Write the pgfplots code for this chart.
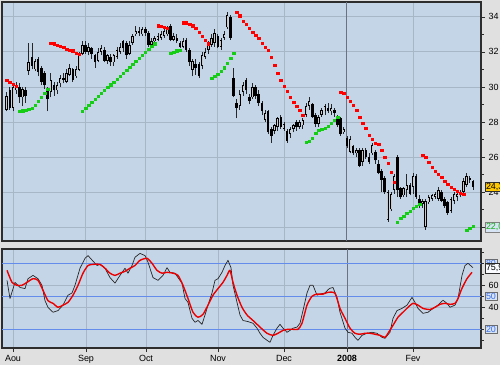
\documentclass[border=0pt]{standalone}
\usepackage{fontspec}
\setmainfont{Liberation Sans}
\usepackage{pgfplots}
\pgfplotsset{compat=1.18}
\usepackage{pgfplotstable}
\definecolor{outerbg}{RGB}{224,224,224}
\definecolor{panel}{RGB}{197,213,232}
\definecolor{gridc}{RGB}{168,183,200}
\definecolor{yeargrid}{RGB}{105,115,132}
\definecolor{sarred}{RGB}{255,0,0}
\definecolor{sargreen}{RGB}{20,205,20}
\definecolor{levelblue}{RGB}{100,140,235}
\definecolor{framec}{RGB}{45,45,45}
\definecolor{upfill}{RGB}{200,200,200}
\definecolor{stochred}{RGB}{235,0,0}
\definecolor{boxyellow}{RGB}{255,200,0}
\definecolor{boxblue}{RGB}{215,228,245}
\definecolor{labblue}{RGB}{60,110,230}
\pgfplotsset{/pgf/number format/assume math mode=true}

\pgfplotstableread{
d o h l c
-2 28.7 29.7 28.6 29.5
-1 29.8 30.0 28.7 28.8
0 28.8 30.1 28.6 30.0
1 29.8 30.3 29.6 30.1
2 30.0 30.2 29.1 29.4
3 29.4 30.0 28.9 29.9
4 29.8 30.0 29.1 29.5
5 30.9 32.5 30.7 31.4
6 31.7 32.5 31.0 31.2
7 31.0 31.6 30.9 31.5
8 31.6 31.7 30.6 30.85
9 31.1 31.2 30.1 30.3
10 30.8 30.9 29.9 30.1
11 29.9 30.0 28.6 29.3
12 29.7 30.8 29.4 30.4
13 30.1 30.3 29.5 29.8
14 29.8 30.3 29.6 30.1
15 30.2 30.7 30.0 30.5
16 30.5 30.8 30.2 30.4
17 30.3 31.0 30.2 30.8
18 30.7 31.3 30.6 31.1
19 31.0 31.1 30.3 30.4
20 30.6 31.2 30.5 31.0
21 30.97 32.0 30.9 31.8
22 31.9 32.6 31.8 32.4
23 32.4 32.6 31.9 32.0
24 32.0 32.5 31.8 32.3
25 32.2 32.3 31.6 31.9
26 31.8 31.9 31.1 31.4
27 31.5 32.2 31.4 32.0
28 32.0 32.4 31.8 32.2
29 32.1 32.3 31.4 31.5
30 31.5 31.9 31.3 31.8
31 31.7 31.9 31.2 31.4
32 31.4 31.9 31.2 31.8
33 31.7 32.3 31.6 32.1
34 32.0 32.5 31.9 32.3
35 32.6 32.7 32.0 32.2
36 32.5 32.6 31.6 31.8
37 31.9 32.6 31.8 32.4
38 32.5 33.0 32.4 32.9
39 33.0 33.5 32.9 33.2
40 33.2 33.4 32.9 33.1
41 33.0 33.4 32.9 33.3
42 33.3 33.4 32.9 33.1
43 33.1 33.2 32.3 32.4
44 32.4 32.8 32.2 32.6
45 32.6 32.9 32.5 32.8
46 32.7 33.1 32.6 32.9
47 32.8 33.2 32.7 33.0
48 32.9 33.4 32.8 33.2
49 33.0 33.5 32.9 33.4
50 33.5 33.6 32.6 32.7
51 32.7 33.1 32.6 32.9
52 32.8 33.0 32.5 32.6
53 32.5 32.6 32.2 32.3
54 32.3 32.8 32.2 32.6
55 32.7 32.8 32.0 32.1
56 32.1 32.2 31.2 31.4
57 30.97 31.6 30.6 31.5
58 31.3 31.6 30.7 31.1
59 31.3 31.4 30.5 30.6
60 31.2 32.0 31.0 31.8
61 31.7 32.2 31.6 32.0
62 32.1 32.6 31.9 32.4
63 32.4 33.0 32.3 32.8
64 32.5 33.3 32.3 33.1
65 32.9 33.0 32.2 32.3
66 32.3 32.8 32.1 32.7
67 32.8 33.2 32.7 33.0
68 33.4 34.3 33.3 34.1
69 34.0 34.1 32.7 32.8
70 30.5 31.1 29.4 29.5
71 29.1 29.3 28.2 28.8
72 28.9 29.8 28.7 29.6
73 29.7 30.3 29.5 30.1
74 30.4 30.5 29.6 29.8
75 29.4 29.6 29.0 29.2
76 29.4 30.2 29.3 30.0
77 30.0 30.1 29.3 29.5
78 29.6 29.8 28.9 29.1
79 29.1 29.2 28.4 28.6
80 28.1 28.7 28.0 28.5
81 28.6 28.7 27.3 27.4
82 27.6 27.7 26.8 27.2
83 27.5 27.9 27.3 27.8
84 27.7 28.3 27.5 28.2
85 28.3 28.4 27.6 27.7
86 27.6 28.0 27.5 27.9
87 27.5 27.6 26.8 26.9
88 27.3 27.7 27.1 27.6
89 27.6 27.9 27.4 27.8
90 28.0 28.1 27.5 27.7
91 27.7 28.1 27.6 28.0
92 27.8 28.2 27.6 28.1
93 28.4 29.1 28.3 28.9
94 28.9 29.4 28.7 29.2
95 29.0 29.1 28.2 28.3
96 28.4 28.5 27.7 27.9
97 27.9 28.4 27.7 28.3
98 28.4 28.8 28.3 28.7
99 28.6 29.0 28.4 28.9
100 28.8 29.1 28.5 28.6
101 28.6 29.0 28.4 28.8
102 28.7 28.8 28.3 28.5
103 28.3 28.4 27.7 27.8
104 28.2 28.3 27.2 27.3
105 27.4 27.7 27.3 27.6
106 27.1 27.2 26.5 26.6
107 26.3 27.2 26.2 27.0
108 26.6 26.7 26.1 26.2
109 26.2 26.5 26.0 26.4
110 26.4 26.5 25.4 25.5
111 25.7 26.5 25.5 26.4
112 26.4 26.5 25.9 26.0
113 26.0 26.2 25.6 25.7
114 26.2 26.8 26.1 26.7
115 26.3 26.4 25.6 25.8
116 25.6 25.8 25.0 25.1
117 25.2 25.3 24.0 24.7
118 24.8 24.9 23.9 24.0
119 22.4 24.1 22.3 24.0
120 23.0 24.0 22.9 23.9
121 24.1 25.0 23.9 24.9
122 26.0 26.1 23.7 24.1
123 24.2 24.3 23.6 23.7
124 23.8 24.3 23.7 24.2
125 24.1 25.0 23.7 24.4
126 24.4 24.5 23.8 23.9
127 24.3 25.1 23.9 24.9
128 24.9 25.0 23.6 23.7
129 23.6 23.8 23.1 23.3
130 23.3 23.6 23.1 23.5
131 22.0 23.6 21.85 23.5
132 23.4 23.8 23.3 23.7
133 23.6 23.9 23.5 23.8
134 23.7 24.0 23.6 23.9
135 23.6 24.3 23.5 24.1
136 24.0 24.1 23.4 23.5
137 23.6 23.7 23.1 23.2
138 23.4 23.5 22.7 22.8
139 22.9 23.7 22.8 23.6
140 23.5 24.0 23.3 23.9
141 23.7 24.0 23.5 23.9
142 23.8 24.1 23.7 24.0
143 24.0 24.8 23.8 24.6
144 24.4 25.1 24.3 24.9
145 24.8 24.9 24.5 24.7
146 24.6 24.7 24.1 24.3
}\ohlc

\pgfplotstableread{
d v
-2 30.40
-1 30.28
0 30.17
1 30.06
12 32.51
13 32.46
14 32.40
15 32.34
16 32.28
17 32.17
18 32.11
19 32.06
20 31.94
21 31.88
46 33.49
47 33.46
48 33.43
49 33.37
54 33.66
55 33.66
56 33.60
57 33.49
58 33.37
59 33.14
60 32.91
61 32.68
62 32.46
71 34.28
72 34.06
73 33.77
74 33.60
75 33.37
76 33.14
77 32.97
78 32.80
79 32.51
80 32.28
81 32.11
82 31.71
83 31.26
84 30.80
85 30.40
86 30.06
87 29.77
88 29.43
89 29.14
90 28.91
91 28.68
92 28.40
104 29.71
105 29.66
106 29.43
107 29.20
108 28.97
109 28.68
110 28.28
111 27.94
112 27.66
113 27.26
114 27.03
115 26.80
116 26.74
117 26.40
118 26.00
119 25.66
120 25.14
121 24.57
130 26.11
131 26.00
132 25.71
133 25.43
134 25.20
135 25.03
136 24.86
137 24.63
138 24.46
139 24.28
140 24.17
141 24.06
142 23.94
143 23.88
}\sarred

\pgfplotstableread{
d v
2 28.63
3 28.66
4 28.69
5 28.74
6 28.80
7 28.97
8 29.20
9 29.43
10 29.66
11 29.88
22 28.63
23 28.80
24 28.97
25 29.14
26 29.31
27 29.48
28 29.66
29 29.83
30 30.00
31 30.14
32 30.28
33 30.46
34 30.63
35 30.80
36 30.97
37 31.14
38 31.31
39 31.48
40 31.66
41 31.83
42 32.00
43 32.17
44 32.34
45 32.46
50 31.94
51 32.00
52 32.06
53 32.11
63 30.51
64 30.63
65 30.74
66 30.91
67 31.09
68 31.37
69 31.66
70 31.94
93 26.86
94 26.91
95 27.08
96 27.37
97 27.54
98 27.60
99 27.66
100 27.77
101 27.94
102 28.11
103 28.28
122 22.28
123 22.51
124 22.63
125 22.80
126 22.91
127 23.08
128 23.20
129 23.31
144 21.83
145 21.94
146 22.06
}\sargreen

\pgfplotstableread{
x k
7 64.5
10 48
15 62.7
20 58
25 57
28 66
33 69
38 66
42 60
45 46
48 40
53 35.5
58 37
63 42
68 51
72 53
75 60
80 75.5
85 84.5
88 87
92 83
97 78
100 79
105 75.5
110 67
115 62
120 69
125 75.5
128 71
132 78
135 85.5
140 89
145 87
148 81
153 67
158 64.5
163 69
167 76
170 71.8
175 71
178 67
182 62
185 48
188 44.5
192 30
195 26.4
198 28
202 24.5
205 33
208 42
212 53
215 64.5
218 66
222 71.8
225 78
228 82.7
231 76
233 60
237 44.5
240 33
243 28
248 27
253 25.5
257 21
260 16.4
263 12.7
267 10
270 8.2
273 14.5
277 21
280 24.5
283 21
287 17.3
290 19
293 21
297 22
300 25.5
303 37
307 53
310 60
313 60
317 51
320 52
325 53
328 56
330 57.3
333 58
337 49
340 35.5
345 21
348 17.3
352 16.4
355 12.7
358 10
362 14.5
367 16.4
372 17.3
377 16.4
382 12.7
385 11.8
390 17.3
393 30
397 37
402 39
407 42
412 49
415 44.5
418 39
423 34.5
428 35.5
433 39
438 42
443 46.4
447 43.6
450 40
455 42
458 48
462 69
465 78
468 80
473 76
}\stochk

\pgfplotstableread{
x d
7 73.6
12 62.7
17 60
22 60
27 62.7
33 66
38 64.5
43 55.5
48 46
53 43.6
58 40
63 42
68 44.5
73 51
78 60
83 71
88 78
93 79
100 79
105 75.5
110 71
115 69
120 71
125 72.7
130 75.5
135 78
140 82.7
147 84.5
152 80
157 73.6
162 71
167 71.8
173 71
178 69
183 60
188 48
193 35.5
198 31
203 33.6
208 42
213 51
218 57
223 62.7
227 69
230 73.6
233 62.7
237 51
242 40
247 33
253 28
260 22
267 16.4
273 14.5
278 16.4
283 19
288 20
293 20
298 20
302 25.5
307 42
312 50
317 52
323 52
328 53.6
335 52.7
340 39
345 30
350 21
355 16.4
360 15.5
365 16.4
370 16.4
375 15.5
380 14.5
385 12.7
388 16.4
393 23.6
398 31
403 35.5
408 40
413 43.6
418 42
423 39
430 38
435 40
440 42.7
445 43.6
450 42.7
455 43.6
458 48
462 57.3
467 66
472 71.8
}\stochd

\begin{document}
\begin{tikzpicture}
\useasboundingbox (0,0) rectangle (500bp,365bp);
\fill[outerbg] (0,0) rectangle (500bp,365bp);

% ---------------- upper panel: price ----------------
\begin{axis}[
  at={(2bp,124bp)}, anchor=south west,
  scale only axis, width=479bp, height=239bp,
  xmin=-3.49, xmax=148.57, ymin=21.2, ymax=34.85,
  axis background/.style={fill=panel},
  axis line style={framec, line width=1.3bp},
  xtick={0,23,42,65,86,127}, xticklabels={},
  x tick style={draw=none},
  extra x ticks={106}, extra x tick labels={},
  extra x tick style={grid=major, major grid style={yeargrid, line width=0.9bp}, major tick length=0pt},
  ytick={22,24,...,34},
  minor ytick={23,25,...,33},
  ytick pos=right, yticklabel pos=right,
  tick align=outside,
  major tick length=4bp, minor tick length=2.5bp,
  y tick style={framec, line width=0.6bp},
  grid=major, major grid style={gridc, line width=0.8bp},
  yticklabel style={font=\fontsize{9}{10}\selectfont, text=black},
  clip=false,
]
% wicks
\addplot[draw=none, mark=none,
  error bars/.cd, y dir=plus, y explicit, error mark=none,
  error bar style={draw=black!85, line width=0.7bp}]
  table[x=d, y=l, y error plus expr=\thisrow{h}-\thisrow{l}] {\ohlc};
% bodies
\addplot[draw=none, mark=none,
  error bars/.cd, y dir=plus, y explicit, error mark=none,
  error bar style={draw=black, line width=2.5bp}]
  table[x=d, y expr={min(\thisrow{o},\thisrow{c})}, y error plus expr={abs(\thisrow{c}-\thisrow{o})}] {\ohlc};
% hollow interior of rising candles
\addplot[draw=none, mark=none,
  error bars/.cd, y dir=plus, y explicit, error mark=none,
  error bar style={draw=upfill, line width=0.9bp}]
  table[x=d, y expr={\thisrow{o}+0.05}, y error plus expr={max(\thisrow{c}-\thisrow{o}-0.1,0)}] {\ohlc};
% parabolic SAR
\addplot[only marks, mark=square*, mark size=1.25bp, mark options={draw=sarred, fill=sarred, line width=0.2bp}]
  table[x=d, y=v] {\sarred};
\addplot[only marks, mark=square*, mark size=1.25bp, mark options={draw=sargreen, fill=sargreen, line width=0.2bp}]
  table[x=d, y=v] {\sargreen};
% value boxes
\node[anchor=west, draw=framec, fill=boxyellow, inner sep=1.2bp, line width=0.6bp,
  font=\fontsize{9}{10}\selectfont] at (axis cs:148.57,24.3) [xshift=3.5bp] {24,38};
\node[anchor=west, draw=gray, fill=boxblue, inner sep=1.2bp, line width=0.6bp,
  text=sargreen!85!black, font=\fontsize{9}{10}\selectfont] at (axis cs:148.57,22.0) [xshift=3.5bp] {22,05};
\end{axis}

% ---------------- lower panel: stochastic ----------------
\begin{axis}[
  at={(2bp,17bp)}, anchor=south west,
  scale only axis, width=479bp, height=99bp,
  xmin=2, xmax=481, ymin=3, ymax=93,
  axis background/.style={fill=panel},
  axis line style={framec, line width=1.3bp},
  xtick={13,86,146,218,284,413},
  xticklabels={Aou,Sep,Oct,Nov,Dec,Fev},
  extra x ticks={347}, extra x tick labels={\textbf{2008}},
  extra x tick style={grid=major, major grid style={yeargrid, line width=0.9bp}},
  xtick pos=bottom,
  ytick={40,60},
  minor ytick={10,20,30,50,70,80,90},
  ytick pos=right, yticklabel pos=right,
  tick align=outside,
  major tick length=4bp, minor tick length=2.5bp,
  tick style={framec, line width=0.6bp},
  grid=major, major grid style={gridc, line width=0.8bp},
  yticklabel style={font=\fontsize{9}{10}\selectfont, text=black},
  xticklabel style={font=\fontsize{9}{10}\selectfont, text=black},
  clip=false,
]
\addplot[levelblue, line width=1.4bp] coordinates {(2,20) (481,20)};
\addplot[levelblue, line width=1.4bp] coordinates {(2,50) (481,50)};
\addplot[levelblue, line width=1.4bp] coordinates {(2,80) (481,80)};
\addplot[black!85, line width=0.7bp, line join=round] table[x=x, y=k] {\stochk};
\addplot[stochred, line width=1.4bp, line join=round, smooth, tension=0.4] table[x=x, y=d] {\stochd};
\node[anchor=west, draw=framec!70, fill=boxblue, inner sep=1.2bp, line width=0.6bp,
  text=labblue, font=\fontsize{9}{10}\selectfont] at (axis cs:481,20) [xshift=3.5bp] {20};
\node[anchor=west, draw=framec!70, fill=boxblue, inner sep=1.2bp, line width=0.6bp,
  text=labblue, font=\fontsize{9}{10}\selectfont] at (axis cs:481,50) [xshift=3.5bp] {50};
\node[anchor=west, draw=framec!70, fill=boxblue, inner sep=1.2bp, line width=0.6bp,
  text=labblue, font=\fontsize{9}{10}\selectfont] at (axis cs:481,80) [xshift=3.5bp] {80};
\node[anchor=west, draw=framec, fill=white!85!boxblue, inner sep=1.2bp, line width=0.6bp,
  font=\fontsize{9}{10}\selectfont] at (axis cs:481,75.5) [xshift=3.5bp] {75,92};
\end{axis}
\end{tikzpicture}
\end{document}
